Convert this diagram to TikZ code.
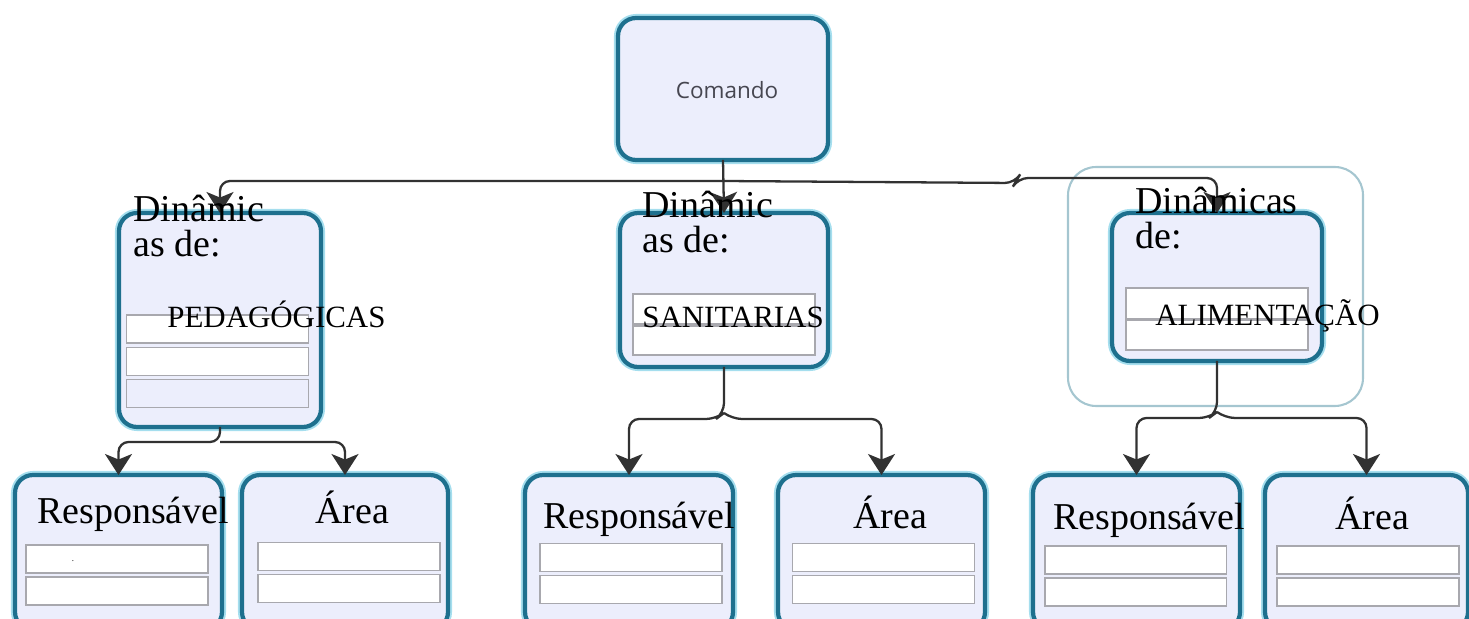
\documentclass[tikz,border=0pt]{standalone}
\usepackage{fontspec}
\setmainfont{Liberation Serif}
\newfontfamily\rotulofont{Open Sans}
\usetikzlibrary{arrows.meta}

\definecolor{bordacaixa}{RGB}{30,112,142}
\definecolor{brilho}{RGB}{165,222,238}
\definecolor{fundocaixa}{RGB}{236,238,252}
\definecolor{bordacampo}{RGB}{168,168,174}
\definecolor{moldura}{RGB}{165,198,208}
\definecolor{linha}{RGB}{50,50,50}
\definecolor{textocomando}{RGB}{70,70,80}

\tikzset{
  caixa/.style={draw=bordacaixa, line width=2.4pt, fill=fundocaixa, rounded corners=0.36cm,
    inner sep=0pt, outer sep=0pt, preaction={draw=brilho, line width=4.6pt}},
  campo/.style={draw=bordacampo, line width=1.1pt, fill=white, inner sep=0pt, outer sep=0pt,
    minimum width=3.64cm, minimum height=0.56cm},
  titulo/.style={font=\fontsize{21.6}{19.8}\selectfont, inner sep=0pt, anchor=base west, align=left},
  nome/.style={font=\fontsize{17.6}{20}\selectfont, inner sep=0pt, anchor=base west},
  seta/.style={draw=linha, line width=1.3pt, rounded corners=0.2cm,
    -{Stealth[length=0.42cm, width=0.54cm, inset=0.11cm]}}
}

\begin{document}
\begin{tikzpicture}[x=0.02cm, y=-0.02cm]
\path[use as bounding box] (0,0) rectangle (1469,618);
\clip (0,0) rectangle (1469,618);

% caixas
\node[caixa, minimum width=4.2cm, minimum height=2.84cm] (comando) at (723,89) {};
\node[draw=moldura, line width=1.2pt, rounded corners=0.56cm, minimum width=5.9cm,
  minimum height=4.78cm, inner sep=0pt] (grupo) at (1215.5,286.5) {};
\node[caixa, minimum width=4.04cm, minimum height=4.28cm] (pedag) at (220,320) {};
\node[caixa, minimum width=4.16cm, minimum height=3.08cm] (sanit) at (724,290) {};
\node[caixa, minimum width=4.2cm, minimum height=2.96cm] (alim) at (1217,287) {};

\node[caixa, minimum width=4.14cm, minimum height=3.1cm] (respA) at (118.5,552.5) {};
\node[caixa, minimum width=4.12cm, minimum height=3.1cm] (areaA) at (345,552.5) {};
\node[caixa, minimum width=4.16cm, minimum height=3.1cm] (respB) at (629,552.5) {};
\node[caixa, minimum width=4.14cm, minimum height=3.1cm] (areaB) at (881.5,552.5) {};
\node[caixa, minimum width=4.14cm, minimum height=3.1cm] (respC) at (1136.5,552.5) {};
\node[caixa, minimum width=4.06cm, minimum height=3.1cm] (areaC) at (1366.5,552.5) {};

% campos
\node[campo] (pedag1) at (217.5,329) {};
\node[campo] (pedag2) at (217.5,361.5) {};
\node[campo, fill=fundocaixa] (pedag3) at (217.5,393.5) {};
\node[campo, minimum height=0.6cm] (sanit1) at (724,309) {};
\node[campo, minimum height=0.58cm] (sanit2) at (724,340.5) {};
\node[campo, minimum height=0.62cm] (alim1) at (1217,303.5) {};
\node[campo, minimum height=0.6cm] (alim2) at (1217,335) {};

\node[campo] (respA1) at (117,559) {};
\node[campo] (respA2) at (117,591) {};
\node[campo] (areaA1) at (349,556.5) {};
\node[campo] (areaA2) at (349,588.5) {};
\node[campo] (respB1) at (631,557.5) {};
\node[campo] (respB2) at (631,589.5) {};
\node[campo] (areaB1) at (883.5,557.5) {};
\node[campo] (areaB2) at (883.5,589.5) {};
\node[campo] (respC1) at (1135.5,560) {};
\node[campo] (respC2) at (1135.5,592) {};
\node[campo] (areaC1) at (1368,560) {};
\node[campo] (areaC2) at (1368,592) {};

% ligacoes
\coordinate (ramo) at (723,181);
\coordinate (juntaA) at (220,442);
\coordinate (juntaB) at (724,413);
\coordinate (juntaC) at (1217,412);
\draw[seta] (comando.south) -- (sanit.north);
\draw[seta] (ramo) -| (pedag.north);
\draw[seta] (ramo) -- ++(292,2) -- ++(3,-5) -| (alim.north);
\draw[seta] (pedag.south) -- (juntaA) -| (respA.north);
\draw[seta] (juntaA) -| (areaA.north);
\draw[seta] (sanit.south) -- (juntaB) -- ++(-8,6) -| (respB.north);
\draw[seta] (juntaB) -- ++(8,6) -| (areaB.north);
\draw[seta] (alim.south) -- (juntaC) -- ++(-8,6) -| (respC.north);
\draw[seta] (juntaC) -- ++(8,6) -| (areaC.north);

% textos
\node[font=\rotulofont\fontsize{12.8}{14}\selectfont, text=textocomando] (tcomando) at (727,90) {Comando};
\node[titulo] (tpedag) at (133,256) {Dinâmic\\as de:};
\node[titulo] (tsanit) at (642,252) {Dinâmic\\as de:};
\node[titulo] (talim) at (1135,248) {Dinâmicas\\de:};
\node[nome] (npedag) at (167,327) {PEDAGÓGICAS};
\node[nome] (nsanit) at (642,327) {SANITARIAS};
\node[nome] (nalim) at (1155,325) {ALIMENTAÇÃO};
\node[titulo] (trespA) at (37,523) {Responsável};
\node[titulo] (tareaA) at (315,523) {Área};
\node[titulo] (trespB) at (543,528) {Responsável};
\node[titulo] (tareaB) at (853,528) {Área};
\node[titulo] (trespC) at (1053,529) {Responsável};
\node[titulo] (tareaC) at (1335,529) {Área};
\node[font=\tiny, inner sep=0pt] (ponto) at (73,561) {.};

\end{tikzpicture}
\end{document}
